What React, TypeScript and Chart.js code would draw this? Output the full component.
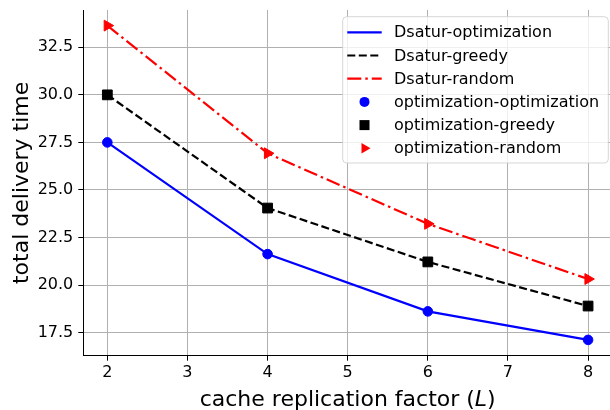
import { useEffect, useRef } from 'react';
import { Chart, registerables } from 'chart.js';

Chart.register(...registerables);

const xValues = [2, 4, 6, 8];
const dsaturOptimization = [27.5, 21.63, 18.62, 17.12];
const dsaturGreedy = [30.0, 24.05, 21.22, 18.9];
const dsaturRandom = [33.64, 26.93, 23.22, 20.32];
const optimizationOptimization = [27.5, 21.63, 18.62, 17.12];
const optimizationGreedy = [30.0, 24.05, 21.22, 18.9];
const optimizationRandom = [33.64, 26.93, 23.22, 20.32];

const xTicks = [2, 3, 4, 5, 6, 7, 8];
const yTicks = [17.5, 20, 22.5, 25, 27.5, 30, 32.5];

const xLabelMain = 'cache replication factor (';
const xLabelItalic = 'L';
const xLabelEnd = ')';
const yLabel = 'total delivery time';

const FONT = '"DejaVu Sans", sans-serif';

type LegendEntry = { label: string; kind: 'line' | 'circle' | 'square' | 'triangle'; color: string; dash: number[] };
const legendEntries: LegendEntry[] = [
  { label: 'Dsatur-optimization', kind: 'line', color: '#0000ff', dash: [] },
  { label: 'Dsatur-greedy', kind: 'line', color: '#000000', dash: [8, 3.5] },
  { label: 'Dsatur-random', kind: 'line', color: '#ff0000', dash: [14, 4, 2.5, 4] },
  { label: 'optimization-optimization', kind: 'circle', color: '#0000ff', dash: [] },
  { label: 'optimization-greedy', kind: 'square', color: '#000000', dash: [] },
  { label: 'optimization-random', kind: 'triangle', color: '#ff0000', dash: [] },
];

const toPoints = (ys: number[]) => xValues.map((x, i) => ({ x, y: ys[i] }));

const decorPlugin = {
  id: 'decor',
  afterDraw(chart: any) {
    const ctx: CanvasRenderingContext2D = chart.ctx;
    const area = chart.chartArea;
    ctx.save();
    ctx.fillStyle = '#000';
    ctx.textBaseline = 'alphabetic';
    ctx.font = `22px ${FONT}`;
    const w1 = ctx.measureText(xLabelMain).width;
    const w3 = ctx.measureText(xLabelEnd).width;
    ctx.font = `italic 22px ${FONT}`;
    const w2 = ctx.measureText(xLabelItalic).width;
    const total = w1 + w2 + w3;
    const cx = (area.left + area.right) / 2;
    let x = cx - total / 2;
    const yBase = 405.5;
    ctx.textAlign = 'left';
    ctx.font = `22px ${FONT}`;
    ctx.fillText(xLabelMain, x, yBase);
    x += w1;
    ctx.font = `italic 22px ${FONT}`;
    ctx.fillText(xLabelItalic, x, yBase);
    x += w2;
    ctx.font = `22px ${FONT}`;
    ctx.fillText(xLabelEnd, x, yBase);

    ctx.save();
    ctx.translate(28, (area.top + area.bottom) / 2);
    ctx.rotate(-Math.PI / 2);
    ctx.textAlign = 'center';
    ctx.textBaseline = 'alphabetic';
    ctx.font = `22px ${FONT}`;
    ctx.fillText(yLabel, 0, 0);
    ctx.restore();

    const bx = 342.7, by = 16.7, bw = 265.6, bh = 146.3, r = 4;
    ctx.globalAlpha = 0.8;
    ctx.beginPath();
    ctx.moveTo(bx + r, by);
    ctx.lineTo(bx + bw - r, by);
    ctx.arcTo(bx + bw, by, bx + bw, by + r, r);
    ctx.lineTo(bx + bw, by + bh - r);
    ctx.arcTo(bx + bw, by + bh, bx + bw - r, by + bh, r);
    ctx.lineTo(bx + r, by + bh);
    ctx.arcTo(bx, by + bh, bx, by + bh - r, r);
    ctx.lineTo(bx, by + r);
    ctx.arcTo(bx, by, bx + r, by, r);
    ctx.closePath();
    ctx.fillStyle = '#ffffff';
    ctx.fill();
    ctx.strokeStyle = '#cccccc';
    ctx.lineWidth = 1;
    ctx.stroke();
    ctx.globalAlpha = 1;

    const rowY0 = 32.3, rowStep = 23.2;
    legendEntries.forEach((e, i) => {
      const yy = rowY0 + i * rowStep;
      const mx = 364.5;
      ctx.fillStyle = e.color;
      ctx.strokeStyle = e.color;
      if (e.kind === 'line') {
        ctx.setLineDash(e.dash);
        ctx.lineWidth = 2.2;
        ctx.beginPath();
        ctx.moveTo(347.3, yy);
        ctx.lineTo(381.7, yy);
        ctx.stroke();
        ctx.setLineDash([]);
      } else if (e.kind === 'circle') {
        ctx.beginPath();
        ctx.arc(mx, yy, 5, 0, Math.PI * 2);
        ctx.fill();
      } else if (e.kind === 'square') {
        ctx.fillRect(mx - 5, yy - 5, 10, 10);
      } else {
        ctx.beginPath();
        ctx.moveTo(mx + 6, yy);
        ctx.lineTo(mx - 3, yy - 5.3);
        ctx.lineTo(mx - 3, yy + 5.3);
        ctx.closePath();
        ctx.fill();
      }
      ctx.fillStyle = '#000';
      ctx.font = `16px ${FONT}`;
      ctx.textAlign = 'left';
      ctx.textBaseline = 'middle';
      ctx.fillText(e.label, 394, yy + 1);
    });
    ctx.restore();
  },
};

export default function App() {
  const ref = useRef<HTMLCanvasElement | null>(null);
  useEffect(() => {
    if (!ref.current) return;
    const chart = new Chart(ref.current, {
      type: 'line',
      data: {
        datasets: [
          { label: 'Dsatur-optimization', data: toPoints(dsaturOptimization), borderColor: '#0000ff', borderWidth: 2.2, pointRadius: 0, fill: false, order: 2 },
          { label: 'Dsatur-greedy', data: toPoints(dsaturGreedy), borderColor: '#000000', borderWidth: 2.2, borderDash: [8, 3.5], pointRadius: 0, fill: false, order: 2 },
          { label: 'Dsatur-random', data: toPoints(dsaturRandom), borderColor: '#ff0000', borderWidth: 2.2, borderDash: [14, 4, 2.5, 4], pointRadius: 0, fill: false, order: 2 },
          { label: 'optimization-optimization', data: toPoints(optimizationOptimization), showLine: false, pointStyle: 'circle', pointRadius: 4.8, pointBorderWidth: 1, pointBackgroundColor: '#0000ff', pointBorderColor: '#0000ff', borderColor: '#0000ff', order: 1 },
          { label: 'optimization-greedy', data: toPoints(optimizationGreedy), showLine: false, pointStyle: 'rect', pointRadius: 6.9, pointBorderWidth: 1, pointBackgroundColor: '#000000', pointBorderColor: '#000000', borderColor: '#000000', order: 1 },
          { label: 'optimization-random', data: toPoints(optimizationRandom), showLine: false, pointStyle: 'triangle', pointRotation: 90, pointRadius: 6.3, pointBorderWidth: 1, pointBackgroundColor: '#ff0000', pointBorderColor: '#ff0000', borderColor: '#ff0000', order: 1 },
        ] as any,
      },
      options: {
        animation: false,
        responsive: false,
        clip: false as any,
        layout: { padding: { top: 10, right: 1, left: 0, bottom: 0 } },
        plugins: { legend: { display: false }, tooltip: { enabled: false } },
        elements: { line: { tension: 0 } },
        scales: {
          x: {
            type: 'linear',
            min: 1.7,
            max: 8.3,
            afterFit: (s: any) => { s.height = 54.3; s.paddingLeft = 0; s.paddingRight = 0; },
            afterBuildTicks: (s: any) => { s.ticks = xTicks.map((v) => ({ value: v })); },
            ticks: { font: { family: FONT, size: 16 }, color: '#000', padding: 3, callback: (v: any) => String(v), maxRotation: 0 },
            grid: { color: '#b0b0b0', lineWidth: 1, tickLength: 5, tickColor: '#000', tickWidth: 1 },
            border: { display: true, color: '#000', width: 1 },
          },
          y: {
            type: 'linear',
            min: 16.29,
            max: 34.46,
            afterFit: (s: any) => { s.width = 83.3; s.paddingTop = 0; s.paddingBottom = 0; },
            afterBuildTicks: (s: any) => { s.ticks = yTicks.map((v) => ({ value: v })); },
            ticks: { font: { family: FONT, size: 16 }, color: '#000', padding: 5, callback: (v: any) => Number(v).toFixed(1) },
            grid: { color: '#b0b0b0', lineWidth: 1, tickLength: 5, tickColor: '#000', tickWidth: 1 },
            border: { display: true, color: '#000', width: 1 },
          },
        },
      },
      plugins: [decorPlugin],
    });
    return () => chart.destroy();
  }, []);
  return (
    <div style={{ position: 'fixed', left: 0, top: 0, width: 610, height: 410, overflow: 'hidden', background: '#fff' }}>
      <canvas ref={ref} width={620} height={410} style={{ display: 'block' }} />
    </div>
  );
}
